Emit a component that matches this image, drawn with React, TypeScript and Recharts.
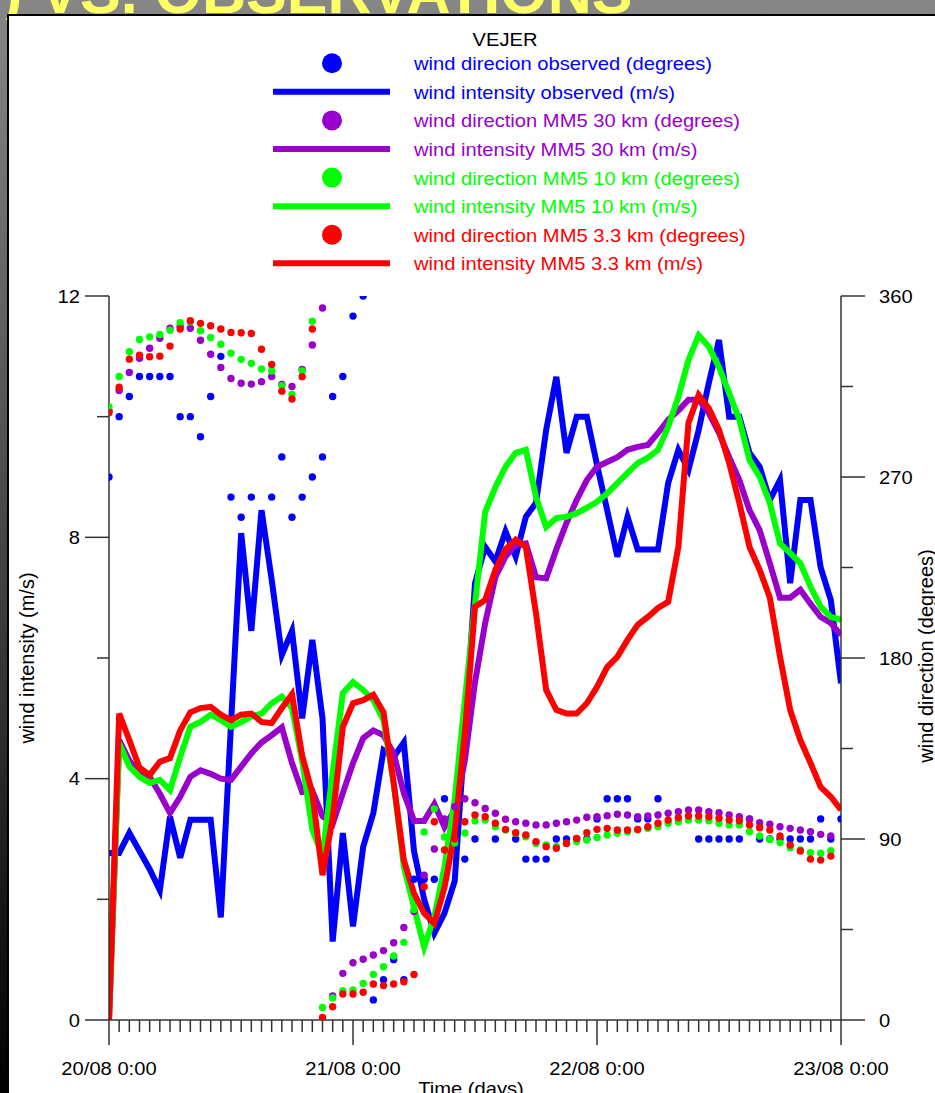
import React from 'react';
import { ComposedChart, Line, XAxis, YAxis, Legend, Label } from 'recharts';

const FONT = '"Liberation Sans", Arial, Helvetica, sans-serif';
const AXIS = '#333333';
const SX = 1.12;
const BLUE = '#0000ff';
const PURPLE = '#9900cc';
const GREEN = '#00ff00';
const RED = '#ff0000';

// categories: hours since 20/08 0:00
const hours = Array.from({ length: 73 }, (_, i) => i);
const dayLabels = ['20/08 0:00', '21/08 0:00', '22/08 0:00', '23/08 0:00'];
const intensityTicks = [0, 2, 4, 6, 8, 10, 12];
const intensityLabels = [0, 4, 8, 12];
const directionTicks = [0, 45, 90, 135, 180, 225, 270, 315, 360];
const directionLabels = [0, 90, 180, 270, 360];

// wind intensity (m/s)
const obsIntensity = [2.77, 2.77, 3.1, 2.8, 2.5, 2.15, 3.37, 2.69, 3.32, 3.32, 3.32, 1.7, 4.9, 8.07, 6.45, 8.45, 7.3, 6.05, 6.45, 5.0, 6.3, 5.0, 1.3, 3.1, 1.55, 2.87, 3.43, 4.47, 4.36, 4.6, 2.8, 2.0, 1.44, 1.77, 2.3, 4.75, 7.24, 7.84, 7.6, 8.1, 7.68, 8.34, 8.57, 9.78, 10.66, 9.4, 10.0, 10.0, 9.2, 8.45, 7.68, 8.34, 7.8, 7.8, 7.8, 8.9, 9.45, 9.12, 9.78, 10.56, 11.27, 10.0, 10.0, 9.4, 9.17, 8.62, 8.95, 7.24, 8.62, 8.62, 7.5, 6.96, 5.58];
const mm30Intensity = [0, 4.64, 4.3, 4.1, 4.03, 3.75, 3.43, 3.7, 4.03, 4.14, 4.08, 4.0, 3.98, 4.2, 4.42, 4.6, 4.72, 4.85, 4.26, 3.78, 3.8, 3.38, 3.25, 3.76, 4.26, 4.67, 4.8, 4.72, 4.42, 3.76, 3.3, 3.3, 3.58, 3.2, 3.48, 4.3, 5.6, 6.58, 7.34, 7.68, 7.87, 7.9, 7.34, 7.32, 7.8, 8.24, 8.62, 8.95, 9.17, 9.25, 9.33, 9.45, 9.5, 9.53, 9.73, 9.95, 10.1, 10.28, 10.28, 10.06, 9.73, 9.33, 8.95, 8.45, 8.12, 7.57, 7.0, 7.0, 7.13, 6.9, 6.68, 6.58, 6.38];
const mm10Intensity = [0, 4.59, 4.2, 4.03, 3.93, 3.98, 3.81, 4.36, 4.86, 4.94, 5.06, 4.97, 4.86, 4.94, 5.03, 5.08, 5.25, 5.36, 5.17, 4.3, 3.15, 2.73, 4.1, 5.42, 5.6, 5.47, 5.3, 4.97, 3.93, 2.54, 1.87, 1.21, 1.71, 2.54, 3.65, 5.3, 6.9, 8.42, 8.83, 9.17, 9.4, 9.45, 8.67, 8.17, 8.32, 8.34, 8.4, 8.49, 8.59, 8.73, 8.9, 9.07, 9.23, 9.32, 9.45, 9.83, 10.33, 10.94, 11.35, 11.16, 10.82, 10.39, 9.95, 9.28, 9.0, 8.57, 7.9, 7.74, 7.57, 7.18, 6.85, 6.68, 6.63];
const mm33Intensity = [0, 5.08, 4.64, 4.18, 4.06, 4.28, 4.34, 4.8, 5.1, 5.17, 5.19, 5.06, 4.97, 5.06, 5.08, 4.94, 4.92, 5.17, 5.4, 4.38, 3.76, 2.4, 3.35, 4.86, 5.25, 5.3, 5.39, 5.1, 3.93, 2.65, 2.1, 1.77, 1.6, 2.2, 3.1, 4.75, 6.85, 6.96, 7.46, 7.8, 7.96, 7.84, 6.74, 5.47, 5.14, 5.08, 5.08, 5.25, 5.52, 5.85, 6.02, 6.3, 6.55, 6.68, 6.83, 6.93, 7.84, 9.9, 10.36, 10.14, 9.78, 9.23, 8.57, 7.84, 7.46, 7.0, 6.02, 5.14, 4.64, 4.26, 3.86, 3.7, 3.48];

// wind direction (degrees)
const obsDirection = [270, 300, 310, 320, 320, 320, 320, 300, 300, 290, 310, 330, 260, 250, 260, 250, 260, 280, 250, 260, 270, 280, 310, 320, 350, 360, 10, 20, 30, 20, 70, 70, 70, 110, null, 80, 90, null, 90, null, 90, 80, 80, 80, 90, 90, 90, 90, 100, 110, 110, 110, 100, 100, 110, null, null, null, 90, 90, 90, 90, 90, 100, 90, 90, 90, 90, 90, 90, 100, 90, 100];
const mm30Direction = [303, 313, 322, 329, 334, 339, 344, 345, 344, 338, 331, 324.5, 319, 316.6, 316.2, 317.4, 320, 316, 315, 323.5, 335.6, 354, 12, 23.2, 28.5, 30.2, 32.3, 34.5, 38.4, 46, 54, 72, 85, 100, 106, 110, 108, 105.2, 102.8, 99.8, 98.6, 97.8, 97, 97, 97.8, 98.6, 99.4, 100.8, 101.1, 101.6, 102.3, 101.9, 101.1, 101.4, 101.9, 102.8, 103.6, 104.4, 104.4, 103.6, 103.1, 101.9, 101.1, 99.8, 98.1, 97.3, 96.1, 95.3, 94.5, 93.6, 92.3, 91.5, null];
const mm10Direction = [305, 320, 332.3, 338.4, 339.7, 340.9, 343, 346.7, 347.2, 342.7, 339.4, 336, 331.5, 328.5, 326.5, 323.7, 322.7, 315.4, 311.1, 322.7, 347.5, 6.2, 11, 14.6, 14.9, 18.2, 22.7, 26.5, 31.8, 38.6, 55, 93.5, 105, 91, 88, 93, 99, 99.4, 96.1, 94.5, 92.8, 91.1, 87.8, 87, 86.2, 87.8, 88.7, 89.5, 90.8, 92, 92.8, 93.6, 94.5, 95.3, 96.1, 97.8, 98.6, 99.4, 99.4, 99.1, 97.8, 97, 97, 93.6, 91.5, 89.8, 88.2, 85.7, 84.5, 83.2, 82.9, 84.2, null];
const mm33Direction = [302, 314.6, 328.6, 330.6, 329.8, 330.1, 335.1, 343.6, 347.7, 346.4, 345.2, 343.6, 341.9, 341.7, 341.4, 333.5, 326, 312.7, 308.8, 319.9, 343.6, 1.3, 6.6, 12.9, 12.9, 13.8, 17.9, 17.1, 17.9, 19, 22.6, 66.3, 98.6, 84.5, 90, 98.6, 101.9, 101.1, 97.8, 94.8, 93.1, 92, 88.7, 86.2, 85.4, 87.8, 90.3, 93.1, 94.8, 95.3, 94.5, 94.5, 94.8, 96.1, 97.8, 99.4, 100.6, 101.4, 101.4, 101.1, 100.3, 99.4, 99.1, 97, 95.6, 94.5, 91.5, 87, 84, 80, 79.5, 81.5, null];

const legendRows = [
  { label: 'wind direcion observed (degrees)', color: BLUE, kind: 'dot' },
  { label: 'wind intensity observed (m/s)', color: BLUE, kind: 'line' },
  { label: 'wind direction MM5 30 km (degrees)', color: PURPLE, kind: 'dot' },
  { label: 'wind intensity MM5 30 km (m/s)', color: PURPLE, kind: 'line' },
  { label: 'wind direction MM5 10 km (degrees)', color: GREEN, kind: 'dot' },
  { label: 'wind intensity MM5 10 km (m/s)', color: GREEN, kind: 'line' },
  { label: 'wind direction MM5 3.3 km (degrees)', color: RED, kind: 'dot' },
  { label: 'wind intensity MM5 3.3 km (m/s)', color: RED, kind: 'line' },
];

const data = hours.map((h, i) => ({
  h,
  obsInt: obsIntensity[i],
  mm30Int: mm30Intensity[i],
  mm10Int: mm10Intensity[i],
  mm33Int: mm33Intensity[i],
  obsDir: obsDirection[i],
  mm30Dir: mm30Direction[i],
  mm10Dir: mm10Direction[i],
  mm33Dir: mm33Direction[i],
}));

const SText = ({ x, y, anchor = 'start', size = 18, fill = '#000', rotate = false, stretch = SX, children }: any) => (
  <text
    transform={`translate(${x},${y}) scale(${stretch},1)${rotate ? ' rotate(-90)' : ''}`}
    x={0}
    y={0}
    textAnchor={anchor}
    fontSize={size}
    fill={fill}
    fontFamily={FONT}
  >
    {children}
  </text>
);

const BottomTick = (props: any) => {
  const { x, y, payload } = props;
  const v = payload.value;
  const major = v % 24 === 0;
  return (
    <g>
      <line x1={x} y1={y} x2={x} y2={y + (major ? 25 : 12)} stroke={AXIS} strokeWidth={1.5} />
      {major && (
        <SText x={x} y={y + 55} anchor="middle">
          {dayLabels[v / 24]}
        </SText>
      )}
    </g>
  );
};

const LeftTick = (props: any) => {
  const { x, y, payload } = props;
  const v = payload.value;
  const major = intensityLabels.includes(v);
  return (
    <g>
      <line x1={x - (major ? 24 : 12)} y1={y} x2={x} y2={y} stroke={AXIS} strokeWidth={1.5} />
      {major && (
        <SText x={x - 29} y={y + 6.5} anchor="end">
          {String(v)}
        </SText>
      )}
    </g>
  );
};

const RightTick = (props: any) => {
  const { x, y, payload } = props;
  const v = payload.value;
  const major = directionLabels.includes(v);
  return (
    <g>
      <line x1={x} y1={y} x2={x + (major ? 24 : 12)} y2={y} stroke={AXIS} strokeWidth={1.5} />
      {major && (
        <SText x={x + 38} y={y + 6.5} anchor="start">
          {String(v)}
        </SText>
      )}
    </g>
  );
};

const makeDot = (color: string, name: string) => (props: any) => {
  const { cx, cy, index } = props;
  if (cy == null || Number.isNaN(cy) || cx == null) return <g key={`${name}-${index}`} />;
  return <circle key={`${name}-${index}`} cx={cx} cy={cy} r={3.7} fill={color} stroke="none" />;
};

const renderLegend = () => (
  <svg width={935} height={280} style={{ display: 'block' }}>
    <SText x={505} y={46} anchor="middle">
      VEJER
    </SText>
    {legendRows.map((r, i) => {
      const cy = 63.3 + i * 28.57;
      return (
        <g key={r.label}>
          {r.kind === 'dot' ? (
            <circle cx={332} cy={cy} r={10} fill={r.color} />
          ) : (
            <line x1={273} x2={390} y1={cy} y2={cy} stroke={r.color} strokeWidth={6} />
          )}
          <SText x={414} y={cy + 7} fill={r.color}>
            {r.label}
          </SText>
        </g>
      );
    })}
  </svg>
);

export default function App() {
  return (
    <div
      style={{
        position: 'absolute',
        left: 0,
        top: 0,
        width: 935,
        height: 1093,
        overflow: 'hidden',
        background: 'linear-gradient(to bottom, #878787 0%, #444444 50%, #000000 100%)',
      }}
    >
      <svg style={{ position: 'absolute', left: 0, top: 0 }} width={935} height={20}>
        <text x={2} y={13} fontSize={61} fontWeight="bold" fill="#ffff66" fontFamily={FONT}>
          ) VS. OBSERVATIONS
        </text>
      </svg>
      <div
        style={{
          position: 'absolute',
          left: 7,
          top: 14,
          width: 940,
          height: 1090,
          background: '#ffffff',
          borderLeft: '2px solid #000',
          borderTop: '2px solid #000',
        }}
      />
      <div style={{ position: 'absolute', left: 0, top: 0 }}>
        <ComposedChart width={935} height={1093} data={data} margin={{ top: 296, right: 0, bottom: 0, left: 0 }}>
          <XAxis
            dataKey="h"
            type="number"
            domain={[0, 72]}
            ticks={hours}
            interval={0}
            tickSize={0}
            tickMargin={0}
            tickLine={false}
            tick={BottomTick}
            axisLine={{ stroke: AXIS, strokeWidth: 1.5 }}
            height={73}
            allowDataOverflow
          >
            <Label content={() => <SText x={471} y={1095} anchor="middle">Time (days)</SText>} />
          </XAxis>
          <YAxis
            yAxisId="int"
            orientation="left"
            width={109}
            type="number"
            domain={[0, 12]}
            ticks={intensityTicks}
            interval={0}
            tickSize={0}
            tickMargin={0}
            tickLine={false}
            tick={LeftTick}
            axisLine={{ stroke: AXIS, strokeWidth: 1.5 }}
            allowDataOverflow
          >
            <Label
              content={() => (
                <SText x={34} y={658} anchor="middle" size={20} rotate stretch={1}>
                  wind intensity (m/s)
                </SText>
              )}
            />
          </YAxis>
          <YAxis
            yAxisId="dir"
            orientation="right"
            width={94}
            type="number"
            domain={[0, 360]}
            ticks={directionTicks}
            interval={0}
            tickSize={0}
            tickMargin={0}
            tickLine={false}
            tick={RightTick}
            axisLine={{ stroke: AXIS, strokeWidth: 1.5 }}
            allowDataOverflow
          >
            <Label
              content={() => (
                <SText x={933} y={656} anchor="middle" size={20} rotate stretch={1}>
                  wind direction (degrees)
                </SText>
              )}
            />
          </YAxis>
          <Legend
            content={renderLegend}
            layout="horizontal"
            verticalAlign="middle"
            align="center"
            wrapperStyle={{ position: 'absolute', left: 0, top: 0, width: 935, height: 280, margin: 0, padding: 0 }}
          />

          <Line yAxisId="dir" dataKey="obsDir" stroke="none" strokeWidth={0} dot={makeDot(BLUE, 'od')} activeDot={false} isAnimationActive={false} />
          <Line yAxisId="int" dataKey="obsInt" type="linear" stroke={BLUE} strokeWidth={6} dot={false} activeDot={false} isAnimationActive={false} />
          <Line yAxisId="dir" dataKey="mm30Dir" stroke="none" strokeWidth={0} dot={makeDot(PURPLE, 'pd')} activeDot={false} isAnimationActive={false} />
          <Line yAxisId="int" dataKey="mm30Int" type="linear" stroke={PURPLE} strokeWidth={6} dot={false} activeDot={false} isAnimationActive={false} />
          <Line yAxisId="dir" dataKey="mm10Dir" stroke="none" strokeWidth={0} dot={makeDot(GREEN, 'gd')} activeDot={false} isAnimationActive={false} />
          <Line yAxisId="int" dataKey="mm10Int" type="linear" stroke={GREEN} strokeWidth={6} dot={false} activeDot={false} isAnimationActive={false} />
          <Line yAxisId="dir" dataKey="mm33Dir" stroke="none" strokeWidth={0} dot={makeDot(RED, 'rd')} activeDot={false} isAnimationActive={false} />
          <Line yAxisId="int" dataKey="mm33Int" type="linear" stroke={RED} strokeWidth={6} dot={false} activeDot={false} isAnimationActive={false} />
        </ComposedChart>
      </div>
    </div>
  );
}
